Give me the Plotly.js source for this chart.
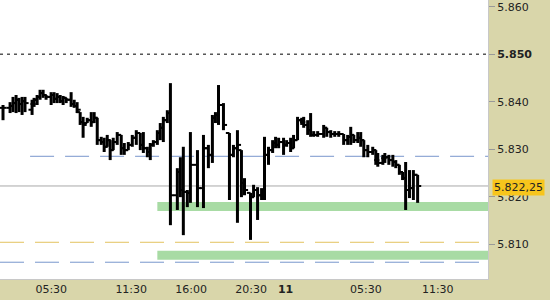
<!DOCTYPE html>
<html>
<head>
<meta charset="utf-8">
<script src="https://cdn.plot.ly/plotly-3.0.1.min.js"></script>
<style>html,body{margin:0;padding:0;background:#d9d6aa;}#chart{width:550px;height:300px;}</style>
</head>
<body>
<div id="chart"></div>
<script>
// Bar times (hours from day-10 00:00, session-compressed axis)
const barTime = [1.88,2.41,2.63,2.86,3.08,3.31,3.53,4.06,4.21,4.44,4.66,4.89,5.11,5.49,5.71,5.94,6.17,6.39,6.62,6.99,
7.22,7.44,7.67,7.89,8.20,8.50,8.72,8.95,9.25,9.47,9.70,9.92,10.15,10.45,10.75,10.98,11.28,11.58,11.88,12.18,
12.41,12.71,12.93,13.16,13.46,13.68,13.91,14.21,14.44,14.96,15.19,15.41,15.71,15.94,16.47,16.92,17.29,17.59,17.82,18.05,
18.42,18.87,19.17,19.47,19.77,20.00,20.45,20.68,20.98,21.28,21.50,21.80,22.11,22.33,22.56,22.93,23.16,23.46,23.68,23.98,
24.29,24.44,24.74,24.96,25.19,25.49,25.94,26.17,26.47,26.77,27.07,27.44,27.74,27.97,28.20,28.50,28.72,28.95,29.25,29.62,
29.85,30.00,30.38,30.53,30.83,31.13,31.35,31.62,31.86,32.09,32.38,32.67,32.99];
const barOpen = [5.8387,5.8387,5.8391,5.8397,5.8404,5.8395,5.8401,5.8383,5.8395,5.8404,5.8410,5.8418,5.8414,5.8410,5.8414,5.8406,5.8410,5.8401,5.8408,5.8404,
5.8395,5.8391,5.8378,5.8357,5.8355,5.8361,5.8357,5.8366,5.8319,5.8315,5.8305,5.8319,5.8298,5.8315,5.8330,5.8302,5.8298,5.8309,5.8324,5.8334,
5.8309,5.8302,5.8294,5.8309,5.8315,5.8334,5.8345,5.8361,5.8376,5.8203,5.8252,5.8214,5.8210,5.8208,5.8267,5.8218,5.8302,5.8288,5.8366,5.8372,
5.8393,5.8334,5.8288,5.8302,5.8298,5.8229,5.8208,5.8199,5.8214,5.8203,5.8214,5.8288,5.8298,5.8313,5.8309,5.8315,5.8309,5.8313,5.8302,5.8319,
5.8361,5.8357,5.8351,5.8340,5.8330,5.8330,5.8332,5.8345,5.8336,5.8332,5.8332,5.8332,5.8319,5.8326,5.8330,5.8319,5.8324,5.8319,5.8298,5.8294,
5.8298,5.8277,5.8271,5.8281,5.8283,5.8277,5.8273,5.8267,5.8252,5.8239,5.8214,5.8218,5.8246];
const barHigh = [5.8393,5.8399,5.8410,5.8414,5.8408,5.8410,5.8410,5.8404,5.8408,5.8414,5.8425,5.8425,5.8414,5.8420,5.8420,5.8418,5.8414,5.8412,5.8408,5.8420,
5.8404,5.8399,5.8378,5.8368,5.8366,5.8378,5.8378,5.8366,5.8326,5.8324,5.8330,5.8319,5.8324,5.8336,5.8330,5.8313,5.8315,5.8330,5.8340,5.8334,
5.8336,5.8305,5.8313,5.8319,5.8340,5.8355,5.8368,5.8382,5.8439,5.8260,5.8283,5.8305,5.8214,5.8336,5.8298,5.8330,5.8309,5.8372,5.8378,5.8435,
5.8397,5.8334,5.8309,5.8340,5.8298,5.8239,5.8208,5.8225,5.8220,5.8218,5.8326,5.8305,5.8319,5.8326,5.8324,5.8324,5.8319,5.8324,5.8330,5.8368,
5.8366,5.8368,5.8361,5.8376,5.8338,5.8338,5.8351,5.8345,5.8340,5.8338,5.8338,5.8332,5.8330,5.8347,5.8330,5.8336,5.8336,5.8319,5.8309,5.8305,
5.8298,5.8292,5.8288,5.8292,5.8288,5.8288,5.8277,5.8267,5.8252,5.8273,5.8256,5.8256,5.8246];
const barLow = [5.8361,5.8376,5.8378,5.8376,5.8378,5.8372,5.8378,5.8372,5.8389,5.8393,5.8404,5.8408,5.8404,5.8393,5.8397,5.8397,5.8397,5.8393,5.8397,5.8389,
5.8387,5.8376,5.8351,5.8324,5.8355,5.8347,5.8355,5.8309,5.8309,5.8294,5.8305,5.8277,5.8298,5.8309,5.8288,5.8288,5.8298,5.8305,5.8309,5.8298,
5.8292,5.8283,5.8277,5.8305,5.8309,5.8319,5.8315,5.8355,5.8140,5.8172,5.8199,5.8119,5.8178,5.8187,5.8178,5.8176,5.8260,5.8271,5.8355,5.8351,
5.8340,5.8193,5.8283,5.8145,5.8199,5.8203,5.8109,5.8199,5.8151,5.8193,5.8193,5.8267,5.8292,5.8302,5.8302,5.8288,5.8305,5.8294,5.8302,5.8319,
5.8351,5.8345,5.8330,5.8326,5.8326,5.8326,5.8324,5.8326,5.8324,5.8326,5.8326,5.8309,5.8309,5.8309,5.8313,5.8313,5.8305,5.8283,5.8283,5.8288,
5.8267,5.8263,5.8267,5.8271,5.8267,5.8263,5.8260,5.8246,5.8235,5.8172,5.8197,5.8193,5.8187];
const barClose = [5.8387,5.8391,5.8397,5.8404,5.8395,5.8401,5.8397,5.8395,5.8404,5.8410,5.8418,5.8414,5.8410,5.8414,5.8406,5.8410,5.8401,5.8408,5.8404,5.8395,
5.8391,5.8383,5.8357,5.8351,5.8361,5.8357,5.8366,5.8319,5.8315,5.8305,5.8319,5.8298,5.8315,5.8330,5.8302,5.8298,5.8309,5.8324,5.8334,5.8309,
5.8302,5.8294,5.8309,5.8315,5.8334,5.8345,5.8361,5.8376,5.8203,5.8252,5.8214,5.8210,5.8208,5.8267,5.8218,5.8302,5.8288,5.8366,5.8372,5.8393,
5.8351,5.8288,5.8302,5.8309,5.8229,5.8214,5.8199,5.8214,5.8203,5.8214,5.8288,5.8298,5.8313,5.8309,5.8315,5.8309,5.8313,5.8302,5.8319,5.8361,
5.8357,5.8351,5.8340,5.8330,5.8330,5.8332,5.8345,5.8336,5.8332,5.8332,5.8332,5.8319,5.8326,5.8330,5.8319,5.8324,5.8319,5.8298,5.8294,5.8298,
5.8277,5.8271,5.8281,5.8283,5.8277,5.8273,5.8267,5.8252,5.8239,5.8214,5.8218,5.8246,5.82225];

// Axis ticks
const xTickVals = [5.5, 11.5, 16.0, 20.5, 23.08, 29.1, 34.5];
const xTickText = ['05:30', '11:30', '16:00', '20:30', '<b>11</b>', '05:30', '11:30'];
const yTickVals = [5.810, 5.820, 5.830, 5.840, 5.850, 5.860];
const yTickText = ['5.810', '5.820', '5.830', '5.840', '<b>5.850</b>', '5.860'];

// Reference levels
const lastPrice = 5.82225;
const lastPriceLabel = '5.822,25';
const levelBlack = 5.850;
const levelBlueUpper = 5.8285;
const levelBlueUpperStart = 3.91;
const levelYellow = 5.8104;
const levelBlueLower = 5.8062;
const zoneStart = 13.46;
const zoneUpper = [5.8170, 5.8189];
const zoneLower = [5.8067, 5.8086];

const xRange = [1.654, 38.27];
const yRange = [5.80267, 5.8614];

// Build OHLC bar paths from data
const tickLen = 0.27;
const vx = [], vy = [], tx = [], ty = [];
for (let i = 0; i < barTime.length; i++) {
  const t = barTime[i];
  vx.push(t, t, null);
  vy.push(barLow[i], barHigh[i], null);
  tx.push(t - tickLen, t, null, t, t + tickLen, null);
  ty.push(barOpen[i], barOpen[i], null, barClose[i], barClose[i], null);
}

const traces = [
  {type: 'scatter', mode: 'lines', x: vx, y: vy, line: {color: '#000000', width: 3}, hoverinfo: 'skip'},
  {type: 'scatter', mode: 'lines', x: tx, y: ty, line: {color: '#000000', width: 2}, hoverinfo: 'skip'}
];

function hline(y, x0, color, dash) {
  return {type: 'line', xref: 'x', yref: 'y', x0: x0, x1: xRange[1], y0: y, y1: y,
          line: {color: color, width: 1, dash: dash}, layer: 'below'};
}
function zone(lims) {
  return {type: 'rect', xref: 'x', yref: 'y', x0: zoneStart, x1: xRange[1], y0: lims[0], y1: lims[1],
          fillcolor: '#a8dba4', line: {width: 0}, layer: 'below'};
}

const layout = {
  width: 550, height: 300,
  margin: {l: 0, r: 62, t: 0, b: 21, pad: 0},
  paper_bgcolor: '#d9d6aa', plot_bgcolor: '#ffffff',
  showlegend: false,
  font: {family: 'DejaVu Sans', size: 11, color: '#222222'},
  xaxis: {
    range: xRange, tickvals: xTickVals, ticktext: xTickText,
    showgrid: false, zeroline: false, ticks: '', showline: true, linecolor: '#c8c8c8', linewidth: 1,
    tickfont: {family: 'DejaVu Sans', size: 11, color: '#222222'}, fixedrange: true
  },
  yaxis: {
    side: 'right', range: yRange, tickvals: yTickVals, ticktext: yTickText,
    showgrid: false, zeroline: false, ticks: 'outside', ticklen: 6, tickcolor: '#999999',
    showline: true, linecolor: '#c8c8c8', linewidth: 1,
    tickfont: {family: 'DejaVu Sans', size: 11, color: '#222222'}, fixedrange: true
  },
  shapes: [
    zone(zoneUpper),
    zone(zoneLower),
    hline(levelBlack, xRange[0], '#000000', '3px,4px'),
    hline(levelBlueUpper, levelBlueUpperStart, '#7896cc', '24px,11px'),
    hline(levelYellow, xRange[0], '#e3c25e', '24px,11px'),
    hline(levelBlueLower, xRange[0], '#7896cc', '24px,11px'),
    hline(lastPrice, xRange[0], '#a8a8a8', 'solid')
  ],
  annotations: [{
    xref: 'paper', yref: 'y', x: 1, y: lastPrice, xanchor: 'left', yanchor: 'middle',
    xshift: 4, yshift: -2, text: lastPriceLabel, showarrow: false,
    bgcolor: '#f7c51c', borderpad: 1,
    font: {family: 'DejaVu Sans', size: 11, color: '#222222'}
  }]
};

Plotly.newPlot('chart', traces, layout, {staticPlot: true, displayModeBar: false});
</script>
</body>
</html>
